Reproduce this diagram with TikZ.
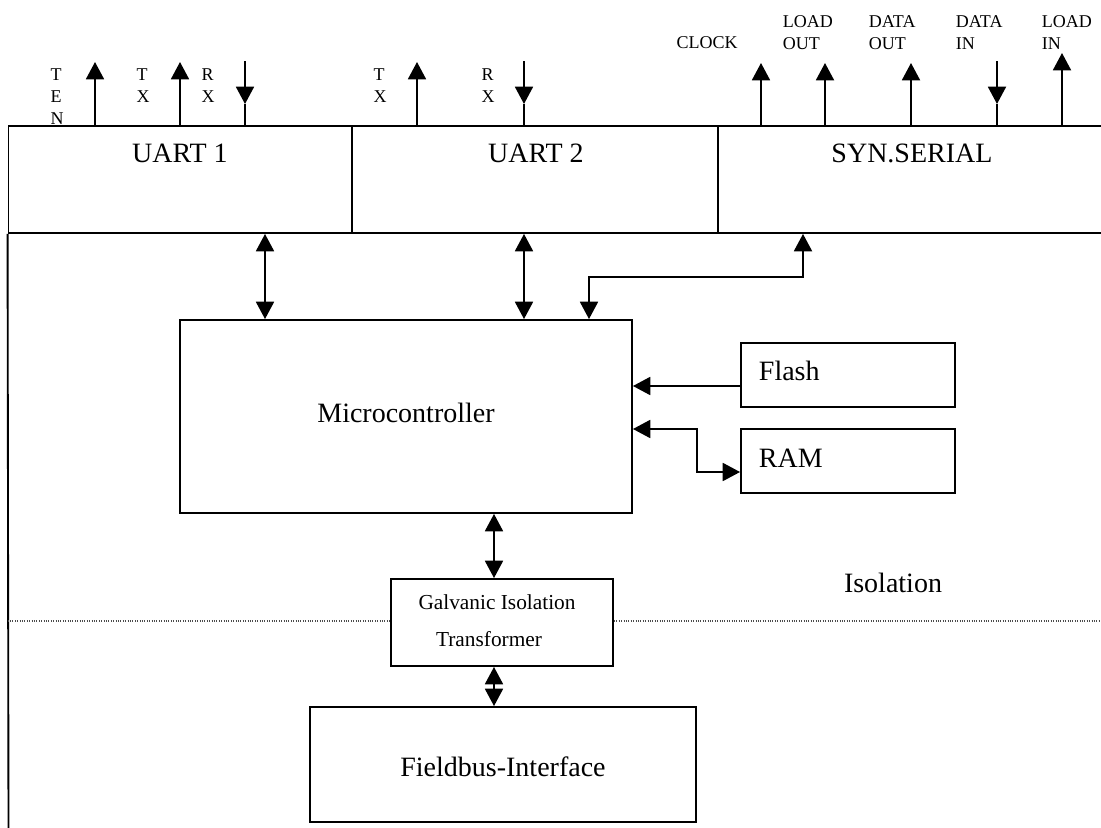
\documentclass[tikz,border=0pt]{standalone}
\usepackage{fontspec}
\setmainfont{Liberation Serif}
\usetikzlibrary{arrows.meta,fit}
\begin{document}
\begin{tikzpicture}[x=0.75pt,y=-0.75pt,
  line width=1.4pt,
  box/.style={draw,rectangle,inner sep=0pt,line width=1.4pt},
  big/.style={font=\fontsize{21}{24}\selectfont,inner sep=0pt},
  mid/.style={font=\fontsize{16}{18}\selectfont,inner sep=0pt},
  small/.style={font=\fontsize{13.5}{16.5}\selectfont,inner sep=0pt,align=left},
  arr/.style={-{Triangle[length=13pt,width=13.5pt]}},
  darr/.style={{Triangle[length=13pt,width=13.5pt]}-{Triangle[length=13pt,width=13.5pt]}},
  dotline/.style={line width=0.8pt,densely dotted,black!70}]
\useasboundingbox (0,0) rectangle (1101,828);
% top boxes
\node[box,fit={(8.5,126)(352,233)}] (uart1) {};
\node[box,fit={(352,126)(718,233)}] (uart2) {};
\node[box,fit={(718,126)(1106,233)}] (syn) {};
\node[big] (tu1) at (180,153) {UART 1};
\node[big] (tu2) at (536,153) {UART 2};
\node[big] (tsyn) at (912,153) {SYN.SERIAL};
% left frame line
\coordinate (lb) at (8.5,832);
\draw (uart1.south west) -- (lb);
% inner boxes
\node[box,fit={(180,320)(632,513)}] (mc) {};
\node[big] (tmc) at (406,413) {Microcontroller};
\node[box,fit={(741,343)(955,407)}] (flash) {};
\node[big,anchor=west] (tflash) at (758,371) {Flash};
\node[box,fit={(741,429)(955,493)}] (ram) {};
\node[big,anchor=west] (tram) at (758,458) {RAM};
\node[box,fit={(391,579)(613,666)}] (gal) {};
\node[mid] (tgal1) at (497,602) {Galvanic Isolation};
\node[mid] (tgal2) at (489,639) {Transformer};
\node[box,fit={(310,707)(696,822)}] (fb) {};
\node[big] (tfb) at (503,767) {Fieldbus-Interface};
\node[big] (tiso) at (893,583) {Isolation};
% top signal arrows
\coordinate (ten) at (95,62);
\coordinate (tx1) at (180,62);
\coordinate (rx1) at (245,61);
\coordinate (rx1m) at (245,104);
\coordinate (tx2) at (417,62);
\coordinate (rx2) at (524,61);
\coordinate (rx2m) at (524,104);
\coordinate (clk) at (761,63);
\coordinate (lo) at (825,63);
\coordinate (dout) at (911,63);
\coordinate (din) at (997,61);
\coordinate (dinm) at (997,104);
\coordinate (li) at (1062,53);
\draw[arr] (ten |- uart1.north) -- (ten);
\draw[arr] (tx1 |- uart1.north) -- (tx1);
\draw[arr] (rx1) -- (rx1m);
\draw (rx1m) -- (rx1m |- uart1.north);
\draw[arr] (tx2 |- uart2.north) -- (tx2);
\draw[arr] (rx2) -- (rx2m);
\draw (rx2m) -- (rx2m |- uart2.north);
\draw[arr] (clk |- syn.north) -- (clk);
\draw[arr] (lo |- syn.north) -- (lo);
\draw[arr] (dout |- syn.north) -- (dout);
\draw[arr] (din) -- (dinm);
\draw (dinm) -- (dinm |- syn.north);
\draw[arr] (li |- syn.north) -- (li);
% top labels
\node[small,anchor=north] (lten) at (57,68) {T\\E\\N};
\node[small,anchor=north] (ltx1) at (143,68) {T\\X};
\node[small,anchor=north] (lrx1) at (208,68) {R\\X};
\node[small,anchor=north] (ltx2) at (380,68) {T\\X};
\node[small,anchor=north] (lrx2) at (488,68) {R\\X};
\node[small] (lclk) at (707,43) {CLOCK};
\node[small,anchor=north west] (llo) at (782,15) {LOAD\\OUT};
\node[small,anchor=north west] (ldo) at (868,15) {DATA\\OUT};
\node[small,anchor=north west] (ldi) at (955,15) {DATA\\IN};
\node[small,anchor=north west] (lli) at (1041,15) {LOAD\\IN};
% bus connectors
\coordinate (a1) at (265,0);
\coordinate (a2) at (524,0);
\draw[darr] (a1 |- uart1.south) -- (a1 |- mc.north);
\draw[darr] (a2 |- uart2.south) -- (a2 |- mc.north);
\coordinate (s1) at (803,277);
\coordinate (s2) at (589,277);
\draw[darr] (s1 |- syn.south) -- (s1) -- (s2) -- (s2 |- mc.north);
\coordinate (f) at (0,386);
\draw[arr] (f -| flash.west) -- (f -| mc.east);
\coordinate (r1) at (697,429);
\coordinate (r2) at (697,472);
\draw[darr] (r1 -| mc.east) -- (r1) -- (r2) -- (r2 -| ram.west);
\coordinate (g) at (494,0);
\draw[darr] (g |- mc.south) -- (g |- gal.north);
\draw[darr] (g |- gal.south) -- (g |- fb.north);
% isolation barrier
\coordinate (d) at (0,621);
\coordinate (dR) at (1101,621);
\draw[dotline] (d -| uart1.west) -- (d -| gal.west);
\draw[dotline] (d -| gal.east) -- (dR);
\end{tikzpicture}
\end{document}
